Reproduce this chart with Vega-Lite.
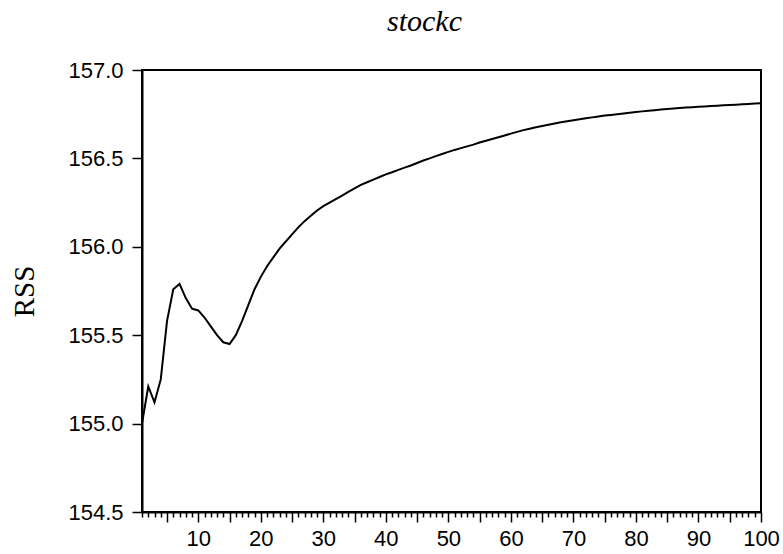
{
  "$schema": "https://vega.github.io/schema/vega-lite/v6.json",
  "width": 619,
  "height": 442,
  "autosize": {"type": "none"},
  "padding": {"left": 142, "top": 70, "right": 22, "bottom": 42},
  "background": "white",
  "config": {
    "view": {"stroke": "black", "strokeWidth": 2},
    "axis": {"grid": false, "domainColor": "black", "domainWidth": 2, "tickColor": "black", "tickWidth": 1.5, "labelColor": "black", "labelFont": "Liberation Sans", "titleColor": "black"}
  },
  "title": {
    "text": "stockc",
    "font": "Liberation Serif",
    "fontStyle": "italic",
    "fontWeight": "normal",
    "fontSize": 30,
    "color": "black",
    "anchor": "middle",
    "frame": "group",
    "baseline": "alphabetic",
    "offset": -2,
    "dx": -27
  },
  "data": {
    "values": [
      {"t": 1, "rss": 155.00}, {"t": 2, "rss": 155.21}, {"t": 3, "rss": 155.12}, {"t": 4, "rss": 155.25},
      {"t": 5, "rss": 155.58}, {"t": 6, "rss": 155.76}, {"t": 7, "rss": 155.79}, {"t": 8, "rss": 155.71},
      {"t": 9, "rss": 155.65}, {"t": 10, "rss": 155.64}, {"t": 11, "rss": 155.60}, {"t": 12, "rss": 155.55},
      {"t": 13, "rss": 155.50}, {"t": 14, "rss": 155.46}, {"t": 15, "rss": 155.45}, {"t": 16, "rss": 155.50},
      {"t": 17, "rss": 155.58}, {"t": 18, "rss": 155.67}, {"t": 19, "rss": 155.76}, {"t": 20, "rss": 155.83},
      {"t": 21, "rss": 155.89}, {"t": 22, "rss": 155.94}, {"t": 23, "rss": 155.99}, {"t": 24, "rss": 156.03},
      {"t": 25, "rss": 156.07}, {"t": 26, "rss": 156.11}, {"t": 27, "rss": 156.145}, {"t": 28, "rss": 156.175},
      {"t": 29, "rss": 156.205}, {"t": 30, "rss": 156.23}, {"t": 31, "rss": 156.25}, {"t": 32, "rss": 156.27},
      {"t": 33, "rss": 156.29}, {"t": 34, "rss": 156.31}, {"t": 35, "rss": 156.33}, {"t": 36, "rss": 156.35},
      {"t": 37, "rss": 156.365}, {"t": 38, "rss": 156.38}, {"t": 39, "rss": 156.395}, {"t": 40, "rss": 156.41},
      {"t": 41, "rss": 156.422}, {"t": 42, "rss": 156.435}, {"t": 43, "rss": 156.448}, {"t": 44, "rss": 156.46},
      {"t": 45, "rss": 156.474}, {"t": 46, "rss": 156.488}, {"t": 47, "rss": 156.50}, {"t": 48, "rss": 156.513},
      {"t": 49, "rss": 156.525}, {"t": 50, "rss": 156.537}, {"t": 51, "rss": 156.548}, {"t": 52, "rss": 156.558},
      {"t": 53, "rss": 156.568}, {"t": 54, "rss": 156.578}, {"t": 55, "rss": 156.59}, {"t": 56, "rss": 156.60},
      {"t": 57, "rss": 156.61}, {"t": 58, "rss": 156.62}, {"t": 59, "rss": 156.63}, {"t": 60, "rss": 156.64},
      {"t": 61, "rss": 156.65}, {"t": 62, "rss": 156.66}, {"t": 63, "rss": 156.668}, {"t": 64, "rss": 156.676},
      {"t": 65, "rss": 156.683}, {"t": 66, "rss": 156.69}, {"t": 67, "rss": 156.697}, {"t": 68, "rss": 156.704},
      {"t": 69, "rss": 156.71}, {"t": 70, "rss": 156.716}, {"t": 71, "rss": 156.722}, {"t": 72, "rss": 156.727},
      {"t": 73, "rss": 156.732}, {"t": 74, "rss": 156.737}, {"t": 75, "rss": 156.742}, {"t": 76, "rss": 156.746},
      {"t": 77, "rss": 156.75}, {"t": 78, "rss": 156.754}, {"t": 79, "rss": 156.758}, {"t": 80, "rss": 156.762},
      {"t": 81, "rss": 156.766}, {"t": 82, "rss": 156.77}, {"t": 83, "rss": 156.773}, {"t": 84, "rss": 156.776},
      {"t": 85, "rss": 156.779}, {"t": 86, "rss": 156.782}, {"t": 87, "rss": 156.785}, {"t": 88, "rss": 156.788},
      {"t": 89, "rss": 156.79}, {"t": 90, "rss": 156.792}, {"t": 91, "rss": 156.794}, {"t": 92, "rss": 156.796},
      {"t": 93, "rss": 156.798}, {"t": 94, "rss": 156.80}, {"t": 95, "rss": 156.802}, {"t": 96, "rss": 156.804},
      {"t": 97, "rss": 156.806}, {"t": 98, "rss": 156.808}, {"t": 99, "rss": 156.81}, {"t": 100, "rss": 156.812}
    ]
  },
  "mark": {"type": "line", "color": "black", "strokeWidth": 2, "clip": true},
  "encoding": {
    "x": {
      "field": "t",
      "type": "quantitative",
      "scale": {"domain": [1, 100], "nice": false, "zero": false},
      "axis": {
        "title": null,
        "values": [1,2,3,4,5,6,7,8,9,10,11,12,13,14,15,16,17,18,19,20,21,22,23,24,25,26,27,28,29,30,31,32,33,34,35,36,37,38,39,40,41,42,43,44,45,46,47,48,49,50,51,52,53,54,55,56,57,58,59,60,61,62,63,64,65,66,67,68,69,70,71,72,73,74,75,76,77,78,79,80,81,82,83,84,85,86,87,88,89,90,91,92,93,94,95,96,97,98,99,100],
        "labelExpr": "datum.value % 10 === 0 ? datum.label : ''",
        "labelOverlap": false,
        "labelFlush": false,
        "labelFontSize": 22,
        "labelPadding": 6,
        "tickSize": {"condition": {"test": "datum.value % 5 === 0", "value": 10}, "value": 5}
      }
    },
    "y": {
      "field": "rss",
      "type": "quantitative",
      "scale": {"domain": [154.5, 157.0], "nice": false, "zero": false},
      "axis": {
        "title": "RSS",
        "titleFont": "Liberation Serif",
        "titleFontWeight": "normal",
        "titleFontSize": 29,
        "titleAngle": -90,
        "titleAlign": "center",
        "titleBaseline": "alphabetic",
        "titleX": -109,
        "titleY": 221,
        "values": [154.5, 155.0, 155.5, 156.0, 156.5, 157.0],
        "format": ".1f",
        "labelFontSize": 22,
        "labelPadding": 9,
        "tickSize": 10
      }
    }
  }
}
